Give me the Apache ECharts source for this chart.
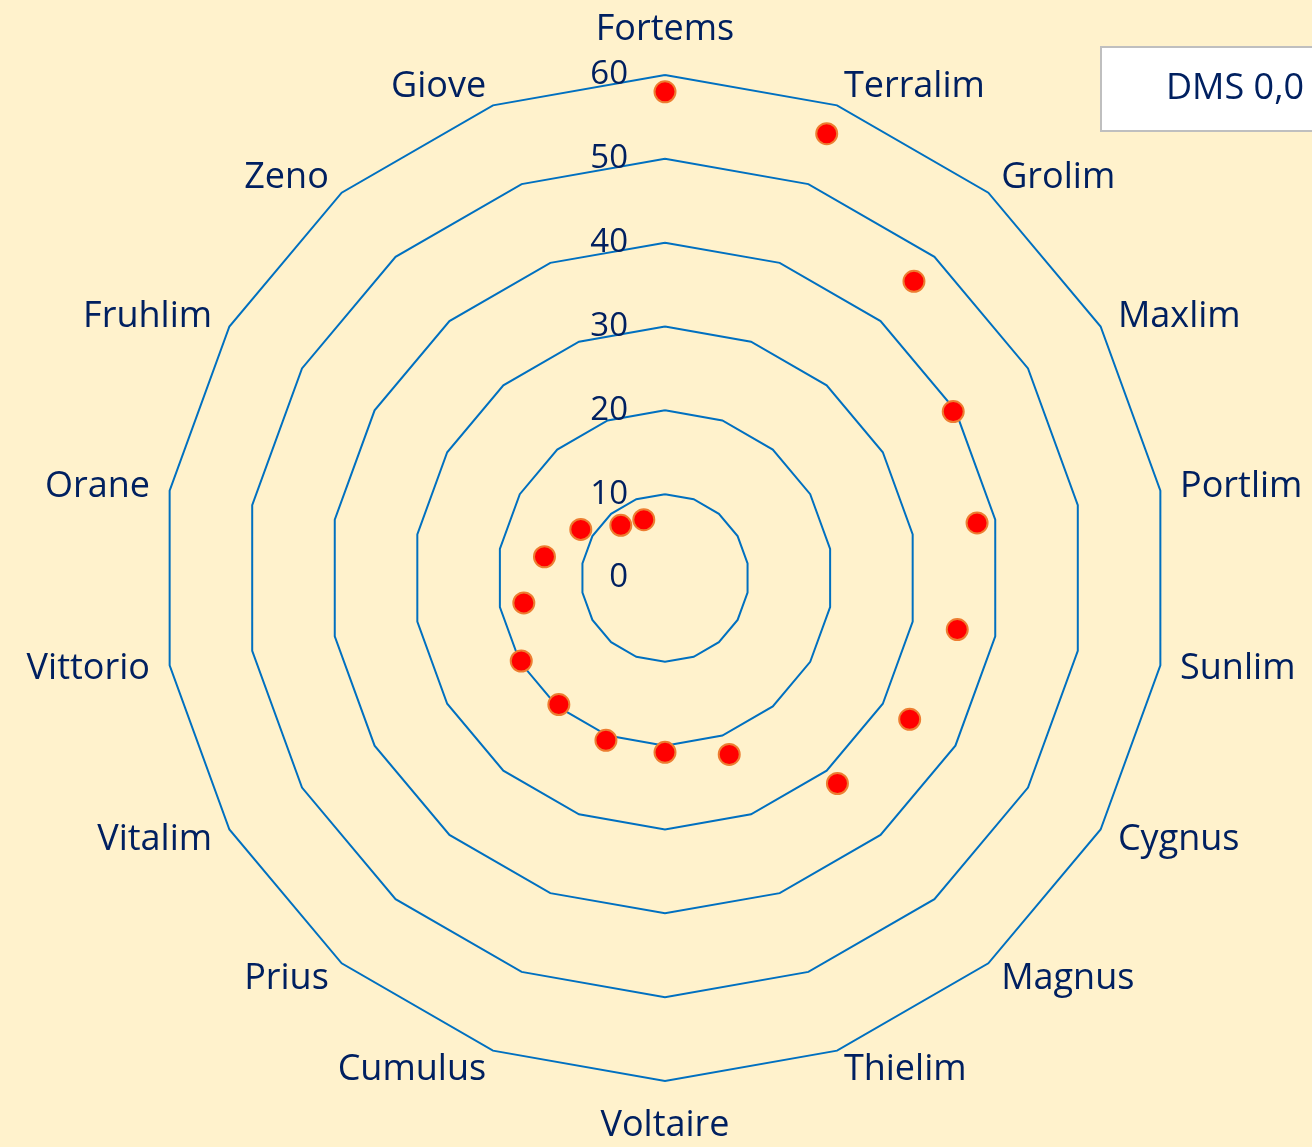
<!DOCTYPE html>
<html>
<head>
<meta charset="utf-8">
<script src="https://cdn.jsdelivr.net/npm/echarts@6/dist/echarts.min.js"></script>
<style>
    html, body {margin: 0; padding: 0; background: #FFF2CC;}
    #chart {width: 1312px; height: 1147px;}
</style>
</head>
<body>
<div id="chart"></div>
<script>
// categories clockwise from the top
const names = ['Fortems', 'Terralim', 'Grolim', 'Maxlim', 'Portlim', 'Sunlim', 'Cygnus', 'Magnus', 'Thielim',
    'Voltaire', 'Cumulus', 'Prius', 'Vitalim', 'Vittorio', 'Orane', 'Fruhlim', 'Zeno', 'Giove'];
const dms_values = [58.0, 56.4, 46.2, 39.7, 37.8, 35.4, 33.7, 32.0, 22.4,
    20.8, 20.6, 19.7, 19.8, 17.1, 14.6, 11.6, 8.2, 7.4];
const series_name = 'DMS 0,0';
const axis_max = 60;

const navy = '#002060';
const font = '"Open Sans", "Noto Sans", sans-serif';

// echarts radar runs counter-clockwise, so keep the first one and flip the rest
const cw = arr => [arr[0]].concat(arr.slice(1).reverse());

const indicators = cw(names).map((n, i) => {
    let ind = {name: n, min: 0, max: axis_max};
    if (n === 'Fortems' || n === 'Voltaire') {
        ind.nameGap = 27;
    }
    if (i === 0) {
        // only the top axis carries the 0..60 labels
        ind.axisLabel = {
            show: true, color: navy, fontSize: 33, fontFamily: font, margin: 37,
            padding: [8, 0, 0, 0],
            showMinLabel: true, showMaxLabel: true
        };
    }
    return ind;
});

const chart = echarts.init(document.getElementById('chart'));
chart.setOption({
    backgroundColor: '#FFF2CC',
    animation: false,
    legend: {
        data: [series_name],
        left: 1101, top: 47,
        backgroundColor: '#ffffff',
        borderColor: '#BFBFBF', borderWidth: 2, borderRadius: 0,
        padding: [22, 90, 22, 37],
        itemWidth: 30, itemGap: 0,
        icon: 'circle',
        itemStyle: {opacity: 0},
        textStyle: {color: navy, fontSize: 36, fontFamily: font, lineHeight: 40}
    },
    radar: {
        center: [665, 578],
        radius: 503,
        startAngle: 90,
        splitNumber: 6,
        shape: 'polygon',
        nameGap: 20,
        axisName: {color: navy, fontSize: 36, fontFamily: font},
        axisLine: {show: false},
        axisTick: {show: false},
        splitArea: {show: false},
        splitLine: {lineStyle: {color: '#0070C0', width: 2}},
        indicator: indicators
    },
    series: [{
        name: series_name,
        type: 'radar',
        symbol: 'circle',
        symbolSize: 21,
        lineStyle: {width: 0, opacity: 0},
        itemStyle: {color: '#FF0000', borderColor: '#ED7D31', borderWidth: 2},
        data: [{value: cw(dms_values), name: series_name}]
    }]
});
</script>
</body>
</html>
